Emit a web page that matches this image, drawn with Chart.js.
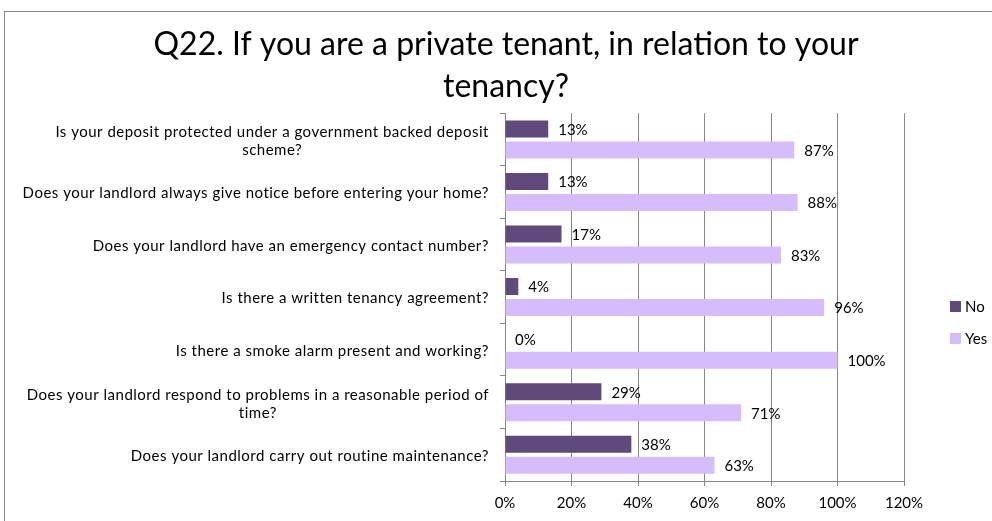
<!DOCTYPE html>
<html>
<head>
<meta charset="utf-8">
<script src="https://cdn.jsdelivr.net/npm/chart.js@4.4.0/dist/chart.umd.min.js"></script>
<style>
  body { margin: 0; background: #fff; overflow: hidden; }
  #box { position: absolute; left: 4px; top: 11px; width: 1002px; height: 540px; border: 1px solid #898989; }
</style>
</head>
<body>
<div id="box"><canvas id="tenancy-chart"></canvas></div>
<script>
const categories = [
    ["Is your deposit protected under a government backed deposit", "scheme?"],
    "Does your landlord always give notice before entering your home?",
    "Does your landlord have an emergency contact number?",
    "Is there a written tenancy agreement?",
    "Is there a smoke alarm present and working?",
    ["Does your landlord respond to problems in a reasonable period of", "time?"],
    "Does your landlord carry out routine maintenance?"
];
const noValues = [13, 13, 17, 4, 0, 29, 38];
const yesValues = [87, 88, 83, 96, 100, 71, 63];
const xTicks = [0, 20, 40, 60, 80, 100, 120];
const seriesNames = ["No", "Yes"];
const seriesColors = ["#604A7B", "#D4BDFA"];

const FONT = 'Lato, "Liberation Sans", sans-serif';
const GRID = "#868686";

// percentages written just past the end of each bar
const valueLabels = {
    id: "valueLabels",
    afterDatasetsDraw(chart) {
        const ctx = chart.ctx;
        ctx.save();
        ctx.font = "15px " + FONT;
        ctx.fillStyle = "#000";
        ctx.textAlign = "left";
        ctx.textBaseline = "middle";
        chart.data.datasets.forEach((ds, i) => {
            chart.getDatasetMeta(i).data.forEach((bar, j) => {
                ctx.fillText(ds.data[j] + "%", bar.x + 10, bar.y + 1);
            });
        });
        ctx.restore();
    }
};

// question text: block right aligned to the axis, wrapped lines centred on each other
const questionLabels = {
    id: "questionLabels",
    afterDraw(chart) {
        const ctx = chart.ctx;
        const scale = chart.scales.y;
        const right = chart.chartArea.left - 16;
        ctx.save();
        ctx.font = "15px " + FONT;
        ctx.letterSpacing = "0.5px";
        ctx.fillStyle = "#000";
        ctx.textAlign = "center";
        ctx.textBaseline = "middle";
        categories.forEach((label, i) => {
            const lines = Array.isArray(label) ? label : [label];
            const w = Math.max(...lines.map(l => ctx.measureText(l).width));
            const y = scale.getPixelForValue(i) + 1.5;
            lines.forEach((l, k) => {
                ctx.fillText(l, right - w / 2, y + (k - (lines.length - 1) / 2) * 18);
            });
        });
        ctx.restore();
    }
};

// small square legend on the right side
const sideLegend = {
    id: "sideLegend",
    afterDraw(chart) {
        const ctx = chart.ctx;
        ctx.save();
        ctx.font = "15px " + FONT;
        ctx.textAlign = "left";
        ctx.textBaseline = "middle";
        chart.data.datasets.forEach((ds, i) => {
            const top = 289 + i * 32;
            ctx.fillStyle = ds.backgroundColor;
            ctx.fillRect(945, top, 11, 11);
            ctx.fillStyle = "#000";
            ctx.fillText(ds.label, 960, top + 6);
        });
        ctx.restore();
    }
};

new Chart("tenancy-chart", {
    type: "bar",
    data: {
        labels: categories,
        datasets: [
            { label: seriesNames[0], data: noValues, backgroundColor: seriesColors[0] },
            { label: seriesNames[1], data: yesValues, backgroundColor: seriesColors[1] }
        ]
    },
    options: {
        indexAxis: "y",
        responsive: true,
        maintainAspectRatio: false,
        animation: false,
        categoryPercentage: 0.8,
        barPercentage: 0.81,
        layout: { padding: { left: 0, right: 0, top: 0, bottom: 31 } },
        plugins: {
            legend: { display: false },
            tooltip: { enabled: false },
            title: {
                display: true,
                text: ["Q22. If you are a private tenant, in relation to your", "tenancy?"],
                color: "#000",
                font: { family: FONT, size: 32, weight: "normal", lineHeight: 1.3 },
                padding: { top: 12, bottom: 6 }
            }
        },
        scales: {
            x: {
                min: 0,
                max: 120,
                afterBuildTicks: s => { s.ticks = xTicks.map(v => ({ value: v })); },
                afterFit: s => { s.height = 40; },
                ticks: { callback: v => v + "%", color: "#000", font: { family: FONT, size: 15 }, padding: 8 },
                grid: { color: GRID, tickLength: 5 },
                border: { color: GRID }
            },
            y: {
                afterFit: s => { s.width = 500; },
                ticks: { display: false },
                grid: { offset: true, drawOnChartArea: false, tickLength: 5, color: GRID },
                border: { color: GRID }
            },
            // empty strip on the right that holds the legend
            legendSpace: {
                type: "category",
                position: "right",
                afterFit: s => { s.width = 103; },
                ticks: { display: false },
                grid: { display: false },
                border: { display: false }
            }
        }
    },
    plugins: [valueLabels, questionLabels, sideLegend]
});
</script>
</body>
</html>
